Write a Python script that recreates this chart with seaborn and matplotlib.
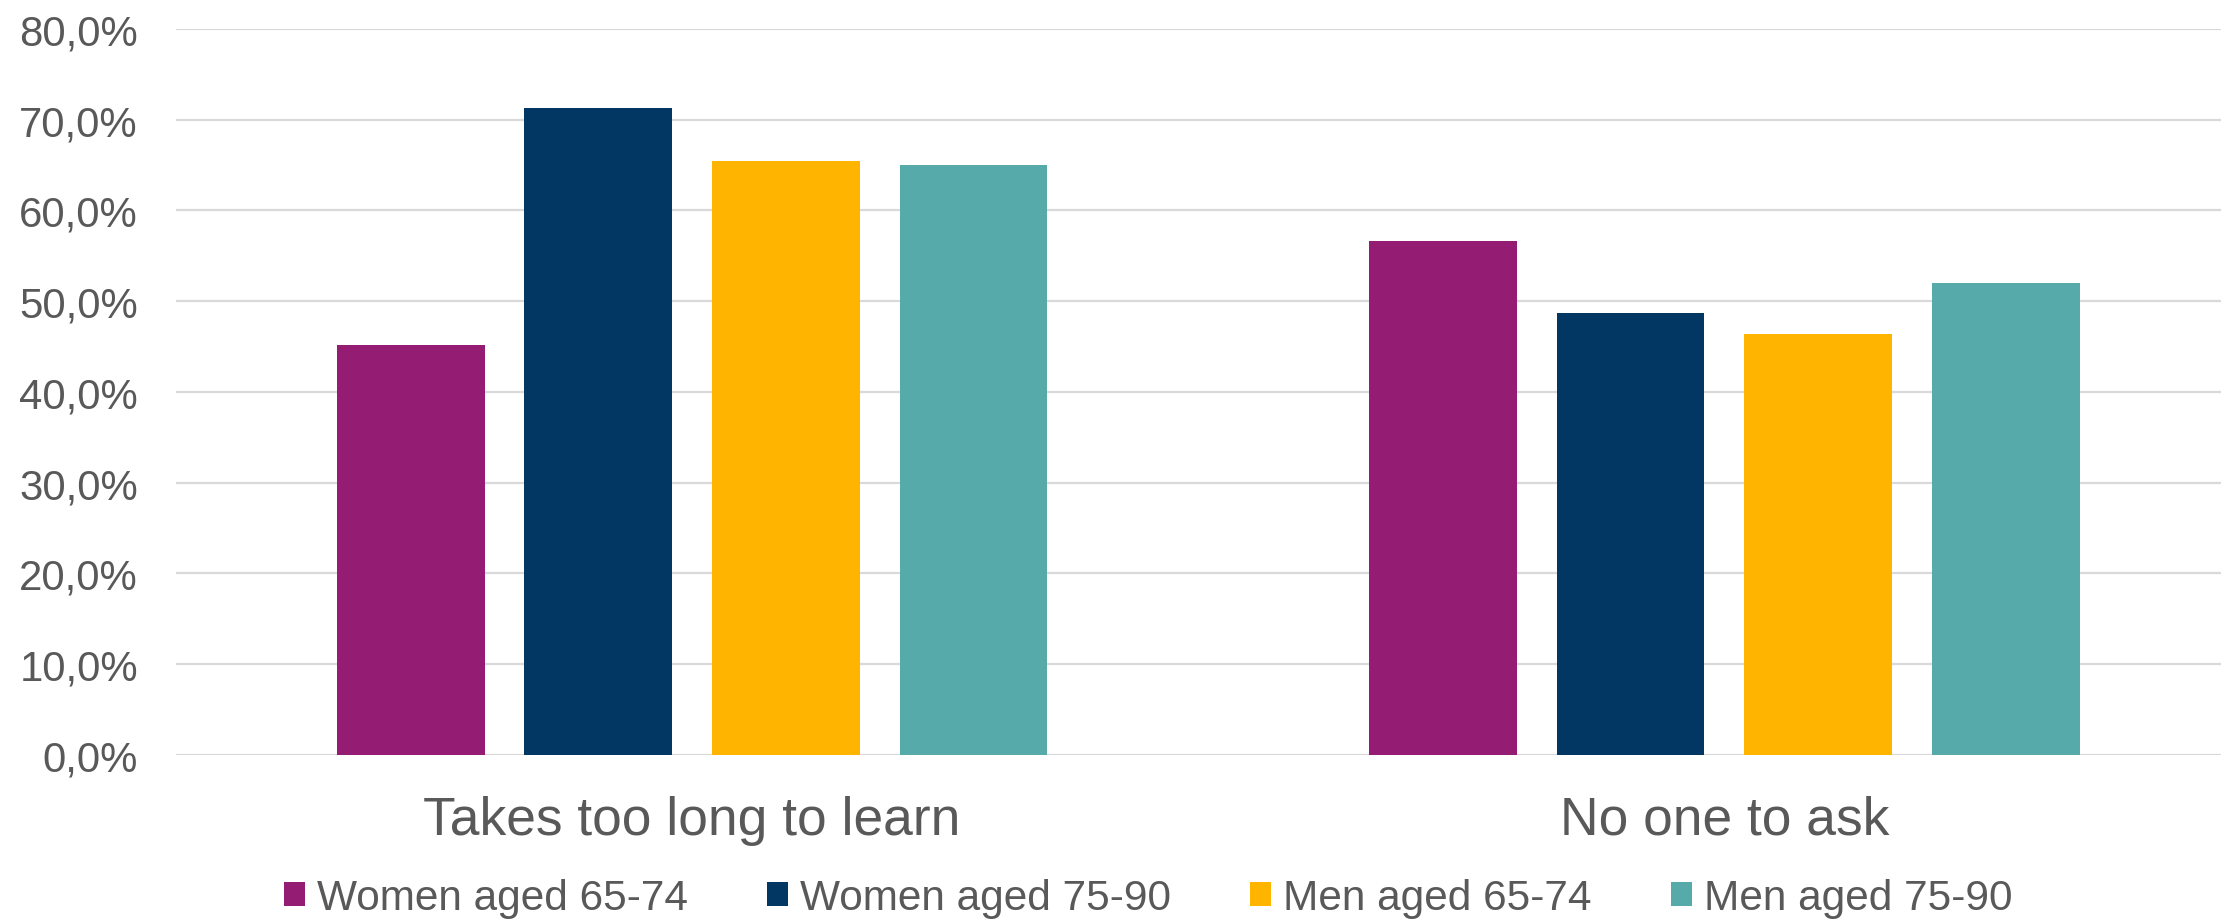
import matplotlib
matplotlib.use("Agg")
import matplotlib.pyplot as plt
from matplotlib.patches import Patch
import seaborn as sns
import pandas as pd

# Survey answers: share of respondents naming each barrier
categories = ["Takes too long to learn", "No one to ask"]
series = ["Women aged 65-74", "Women aged 75-90", "Men aged 65-74", "Men aged 75-90"]
women_65_74 = [45.2, 56.6]
women_75_90 = [71.3, 48.7]
men_65_74 = [65.5, 46.4]
men_75_90 = [65.0, 52.0]
y_ticks = [0, 10, 20, 30, 40, 50, 60, 70, 80]
y_tick_labels = ["0,0%", "10,0%", "20,0%", "30,0%", "40,0%", "50,0%", "60,0%", "70,0%", "80,0%"]

colors = ["#951C73", "#023764", "#FFB500", "#56AAAA"]
text_color = "#595959"
grid_color = "#D9D9D9"

rows = []
for name, vals in zip(series, [women_65_74, women_75_90, men_65_74, men_75_90]):
    for cat, v in zip(categories, vals):
        rows.append({"category": cat, "series": name, "value": v})
df = pd.DataFrame(rows)

sns.set_theme(style="white")
plt.rcParams["font.family"] = ["Liberation Sans", "DejaVu Sans"]

fig = plt.figure(figsize=(22.21, 9.2), dpi=100)
W, H = 2221, 920
ax = fig.add_axes([176 / W, (H - 755.7) / H, (2240.5 - 176) / W, (755.7 - 30) / H])

sns.barplot(data=df, x="category", y="value", hue="series", order=categories,
            hue_order=series, palette=colors, width=0.727, gap=0.213,
            saturation=1, linewidth=0, ax=ax, legend=False)

ax.set_ylim(0, 80)
ax.set_xlim(-0.5, 1.5)
ax.set_yticks(y_ticks)
ax.set_yticklabels(y_tick_labels)
ax.yaxis.grid(True, color=grid_color, linewidth=1.6)
ax.set_axisbelow(True)
for s in ax.spines.values():
    s.set_visible(False)
ax.set_xlabel("")
ax.set_ylabel("")
ax.tick_params(axis="y", length=0, pad=27.4, labelsize=30.2, labelcolor=text_color)
ax.tick_params(axis="x", length=0, pad=29, labelsize=38.4, labelcolor=text_color)

handles = [Patch(facecolor=c, edgecolor="none") for c in colors]
fig.legend(handles, series, loc="center", bbox_to_anchor=(1148 / W, 21 / H),
           ncol=4, frameon=False, fontsize=30.5, labelcolor=text_color,
           handlelength=0.5, handleheight=0.5, handletextpad=0.28,
           columnspacing=1.87, borderpad=0, borderaxespad=0)

fig.savefig("out.png", dpi=100, facecolor="white")
